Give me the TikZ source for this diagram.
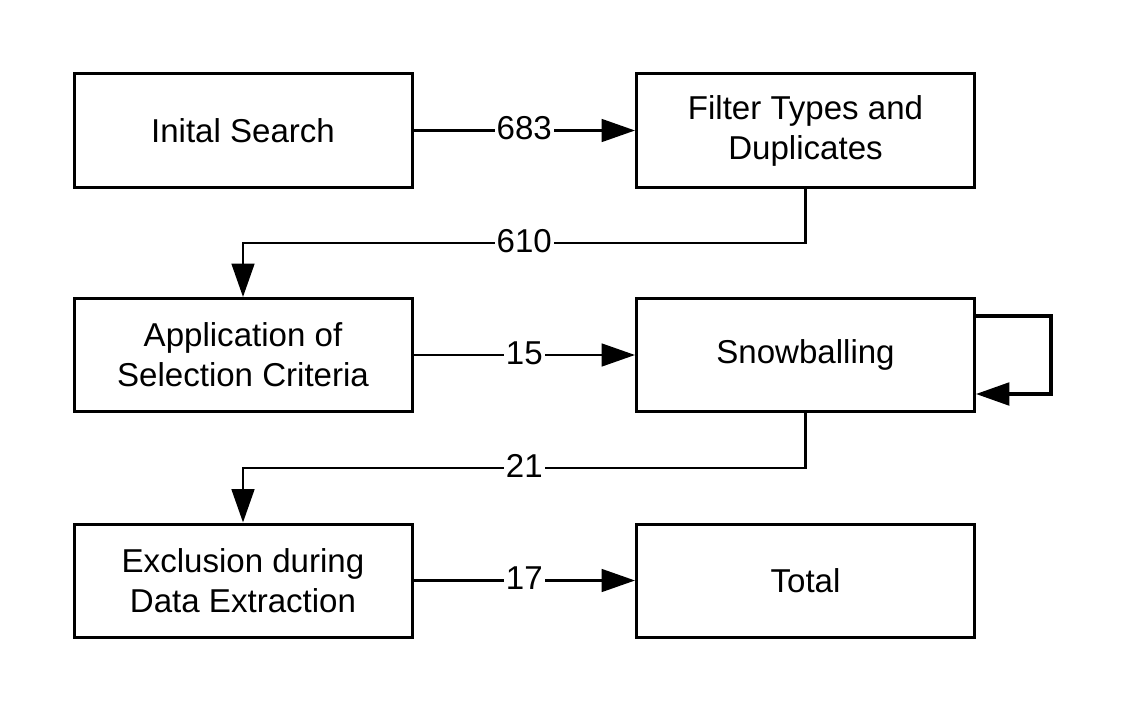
\documentclass[tikz,border=0pt]{standalone}
\usepackage{fontspec}
\setmainfont{Liberation Sans}
\usetikzlibrary{arrows.meta}
\begin{document}
\begin{tikzpicture}[x=0.75pt,y=-0.75pt,
  stage/.style={draw,line width=2.25pt,minimum width=253.5pt,minimum height=84.75pt,
    align=center,inner sep=0pt,font=\fontsize{24.8}{30}\selectfont},
  conn/.style={line width=1.9pt,-{Triangle[length=25pt,width=17pt]}},
  loopconn/.style={line width=2.4pt,-{Triangle[length=25pt,width=17pt]}},
  lbl/.style={fill=white,inner sep=1.5pt,yshift=1.5pt,font=\fontsize{24.8}{30}\selectfont}]
\useasboundingbox (0,0) rectangle (1127,713);
\fill[white] (0,0) rectangle (1127,713);

\node[stage] (init)  at (243,130.5)   {Inital Search};
\node[stage] (filt)  at (805.5,130.5) {Filter Types and\\Duplicates};
\node[stage] (sel)   at (243,355)     {Application of\\Selection Criteria};
\node[stage] (snow)  at (805.5,355)   {Snowballing};
\node[stage] (excl)  at (243,580.5)   {Exclusion during\\Data Extraction};
\node[stage] (total) at (805.5,580.5) {Total};

\draw[conn] (init) -- node[lbl]{683} (filt);
\draw[conn] (filt.south) -- (filt.south |- 0,243)
  -- node[lbl]{610} (sel.north |- 0,243) -- (sel.north);
\draw[conn] (sel) -- node[lbl]{15} (snow);
\draw[loopconn] (snow.east |- 0,316) -- (1051,316) -- (1051,394) -- (snow.east |- 0,394);
\draw[conn] (snow.south) -- (snow.south |- 0,468)
  -- node[lbl]{21} (excl.north |- 0,468) -- (excl.north);
\draw[conn] (excl) -- node[lbl]{17} (total);
\end{tikzpicture}
\end{document}
